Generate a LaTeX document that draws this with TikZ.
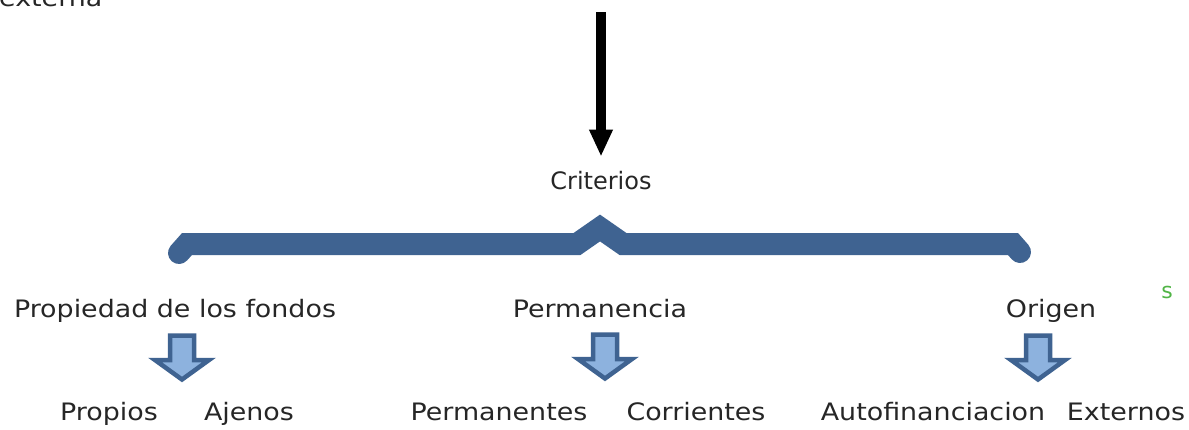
\documentclass[tikz,border=0pt]{standalone}
\usepackage{fontspec}
\setmainfont{DejaVu Sans}
\newfontfamily\wideface[FakeStretch=1.12]{DejaVu Sans}
\usetikzlibrary{arrows.meta}

\definecolor{bracecol}{RGB}{63,99,145}
\definecolor{arrowfill}{RGB}{141,178,222}
\definecolor{markgreen}{RGB}{80,180,70}

\begin{document}
\begin{tikzpicture}[
    x=1pt, y=-1pt,
    label/.style={anchor=base, inner sep=0pt, font=\wideface\fontsize{24}{28}\selectfont, text=black!85},
    head/.style={anchor=base, inner sep=0pt, font=\fontsize{24}{28}\selectfont, text=black!85},
    bigarrow/.style={-{Triangle[width=22pt,length=27pt]}, line width=10pt},
    brace/.style={draw=bracecol, line width=22pt, line cap=round, line join=miter},
    blockdown/.pic={
        \draw[draw=bracecol, line width=4.5pt, fill=arrowfill, line join=miter]
            (-12,2.5) -- (12,2.5) -- (12,27) -- (27,27) -- (0,46.5)
            -- (-27,27) -- (-12,27) -- cycle;
    }
]
\useasboundingbox (0,0) rectangle (1189,429);

% top
\node[label, anchor=base west] (ext) at (-1,6) {externa};
\coordinate (src) at (601,12);
\node[head] (crit) at (601,189) {Criterios};
\draw[bigarrow, shorten >=14pt] (src) -- (crit.north);

% brace
\draw[brace] (179,253) -- (187,244) -- (577,244) -- (600,228) -- (623,244)
    -- (1013,244) -- (1020,252);

% criteria
\node[label] (prop) at (175,317) {Propiedad de los fondos};
\node[label] (perm) at (600,317) {Permanencia};
\node[label] (orig) at (1051,317) {Origen};
\node[label, font=\fontsize{22}{26}\selectfont, text=markgreen] (mark) at (1167,298) {s};

\pic at (182,333) {blockdown};
\pic at (605,332) {blockdown};
\pic at (1038,333) {blockdown};

% kinds
\node[label] (propios) at (109,420) {Propios};
\node[label] (ajenos) at (249,420) {Ajenos};
\node[label] (perms) at (499,420) {Permanentes};
\node[label] (corr) at (696,420) {Corrientes};
\node[label] (auto) at (933,420) {Autofinanciacion};
\node[label] (extr) at (1126,420) {Externos};
\end{tikzpicture}
\end{document}
